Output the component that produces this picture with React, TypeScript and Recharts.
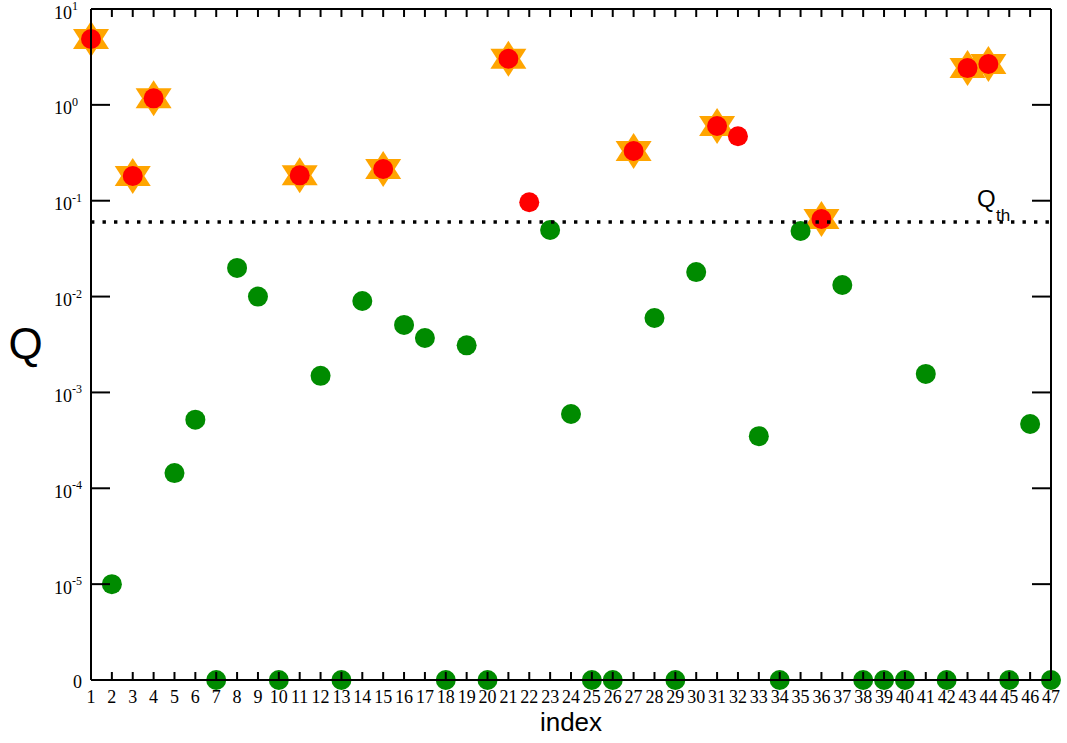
import React from 'react';
import { ScatterChart, Scatter, XAxis, YAxis, ReferenceLine, Label } from 'recharts';

const indices = [1, 2, 3, 4, 5, 6, 7, 8, 9, 10, 11, 12, 13, 14, 15, 16, 17, 18, 19, 20, 21, 22, 23, 24, 25, 26, 27, 28, 29, 30, 31, 32, 33, 34, 35, 36, 37, 38, 39, 40, 41, 42, 43, 44, 45, 46, 47];
const qValues = [4.86, 1e-5, 0.181, 1.17, 1.44e-4, 5.2e-4, 0, 0.0199, 0.01, 0, 0.184, 1.49e-3, 0, 9.0e-3, 0.214, 5.06e-3, 3.7e-3, 0, 3.1e-3, 0, 3.03, 0.0963, 0.0495, 5.96e-4, 0, 0, 0.33, 5.98e-3, 0, 0.018, 0.602, 0.47, 3.5e-4, 0, 0.0483, 0.0645, 0.0132, 0, 0, 0, 1.56e-3, 0, 2.42, 2.67, 0, 4.69e-4, 0];
const starredIndices = [1, 3, 4, 11, 15, 21, 27, 31, 36, 43, 44];
const qThreshold = 0.06;
const yFloor = 1e-6;
const yTicks = [1e-6, 1e-5, 1e-4, 1e-3, 1e-2, 1e-1, 1, 10];

const plotted = indices.map((x, i) => ({ x, y: qValues[i] > 0 ? qValues[i] : yFloor, q: qValues[i] }));
const greenData = plotted.filter((d) => d.q <= qThreshold);
const redData = plotted.filter((d) => d.q > qThreshold);
const starData = plotted.filter((d) => starredIndices.includes(d.x));

const GREEN = '#008b00';
const RED = '#ff0000';
const ORANGE = '#ffa500';
const SERIF = '"Liberation Serif", "Times New Roman", serif';
const SANS = '"Liberation Sans", Arial, sans-serif';

const circleShape = (color: string) => (props: any) => (
  <circle cx={props.cx} cy={props.cy} r={10} fill={color} />
);

const emptyShape = () => <g />;

const starShape = (props: any) => {
  const { cx, cy } = props;
  const up = `${cx},${cy - 18} ${cx + 18},${cy + 10} ${cx - 18},${cy + 10}`;
  const down = `${cx},${cy + 18} ${cx + 18},${cy - 10} ${cx - 18},${cy - 10}`;
  return (
    <g>
      <polygon points={up} fill={ORANGE} />
      <polygon points={down} fill={ORANGE} />
    </g>
  );
};

const XTick = (props: any) => {
  const { x, y, payload } = props;
  return (
    <text x={x} y={y + 23} textAnchor="middle" fontFamily={SERIF} fontSize={18} fill="#000">
      {payload.value}
    </text>
  );
};

const EmptyTick = () => <g />;

const YTick = (props: any) => {
  const { x, y, payload } = props;
  const v = payload.value;
  if (v <= yFloor) {
    return (
      <text x={x} y={y + 7.5} textAnchor="end" fontFamily={SERIF} fontSize={18} fill="#000">
        0
      </text>
    );
  }
  const exp = Math.round(Math.log10(v));
  return (
    <g>
      <text x={x - 10} y={y + 9.5} textAnchor="end" fontFamily={SERIF} fontSize={18} fill="#000">
        10
      </text>
      <text x={x - 10} y={y + 1} textAnchor="start" fontFamily={SERIF} fontSize={12} fill="#000">
        {exp}
      </text>
    </g>
  );
};

const ThLabel = (props: any) => {
  const vb = props.viewBox || {};
  const xr = vb.x + vb.width;
  const y = vb.y;
  return (
    <g>
      <text x={xr - 74} y={y - 14.5} fontFamily={SANS} fontSize={24} fill="#000">Q</text>
      <text x={xr - 55} y={y - 0.5} fontFamily={SANS} fontSize={17} fill="#000">th</text>
    </g>
  );
};

const XLabel = (props: any) => {
  const vb = props.viewBox || {};
  return (
    <text x={vb.x + vb.width / 2} y={vb.y + 51} textAnchor="middle" fontFamily={SANS} fontSize={26} fill="#000">
      index
    </text>
  );
};

const YLabel = (props: any) => {
  const vb = props.viewBox || {};
  return (
    <text x={25.5} y={vb.y + vb.height / 2 + 14.5} textAnchor="middle" fontFamily={SANS} fontSize={44} fill="#000">
      Q
    </text>
  );
};

const axisLineStyle = { stroke: '#000', strokeWidth: 2 };
const tickLineStyle = { stroke: '#000', strokeWidth: 2 };

export default function App() {
  return (
    <div style={{ position: 'absolute', left: 0, top: 0, background: '#fff' }}>
      <ScatterChart width={1067} height={743} margin={{ top: 8, right: 15, bottom: 0, left: 0 }}>
        <Scatter data={starData} dataKey="y" shape={starShape} isAnimationActive={false} />
        <Scatter data={redData} dataKey="y" shape={circleShape(RED)} isAnimationActive={false} />
        <Scatter data={greenData} dataKey="y" shape={circleShape(GREEN)} isAnimationActive={false} />
        <Scatter
          data={plotted}
          dataKey="y"
          xAxisId="top"
          yAxisId="right"
          shape={emptyShape}
          isAnimationActive={false}
        />
        <ReferenceLine
          y={qThreshold}
          stroke="#000"
          strokeWidth={3.4}
          strokeDasharray="3.4 8.1"
          label={<ThLabel />}
          zIndex={800}
        />
        <XAxis
          dataKey="x"
          type="number"
          domain={[1, 47]}
          ticks={indices}
          interval={0}
          height={63}
          tickSize={-8}
          tickMargin={8}
          axisLine={axisLineStyle}
          tickLine={tickLineStyle}
          tick={<XTick />}
          zIndex={800}
        >
          <Label content={<XLabel />} />
        </XAxis>
        <XAxis
          xAxisId="top"
          dataKey="x"
          orientation="top"
          type="number"
          domain={[1, 47]}
          ticks={indices}
          interval={0}
          height={1}
          tickSize={-8}
          axisLine={axisLineStyle}
          tickLine={tickLineStyle}
          tick={<EmptyTick />}
          zIndex={800}
        />
        <YAxis
          dataKey="y"
          type="number"
          scale="log"
          domain={[yFloor, 10]}
          ticks={yTicks}
          interval={0}
          width={91}
          tickSize={-19}
          tickMargin={28}
          axisLine={axisLineStyle}
          tickLine={tickLineStyle}
          tick={<YTick />}
          zIndex={800}
        >
          <Label content={<YLabel />} />
        </YAxis>
        <YAxis
          yAxisId="right"
          dataKey="y"
          orientation="right"
          type="number"
          scale="log"
          domain={[yFloor, 10]}
          ticks={yTicks}
          interval={0}
          width={1}
          tickSize={-19}
          axisLine={axisLineStyle}
          tickLine={tickLineStyle}
          tick={<EmptyTick />}
          zIndex={800}
        />
      </ScatterChart>
    </div>
  );
}
